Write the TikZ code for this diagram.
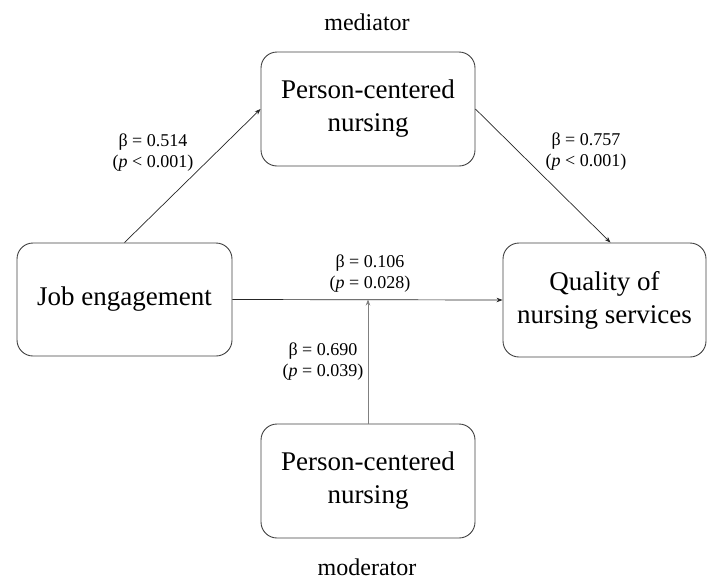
\documentclass[tikz,border=0pt]{standalone}
\usepackage{fontspec}
\setmainfont{Liberation Serif}
\usetikzlibrary{arrows.meta}
\begin{document}
\begin{tikzpicture}[x=1pt,y=-1pt,
  box/.style={draw=black!75, line width=0.9pt, rounded corners=16pt, align=center,
    inner sep=0pt, font=\fontsize{27}{33}\selectfont},
  lbl/.style={align=center, inner sep=0pt, font=\fontsize{18}{21}\selectfont},
  role/.style={inner sep=0pt, anchor=base, font=\fontsize{24}{28}\selectfont},
  arr/.style={line width=0.7pt, draw=black!85, -{Stealth[length=6pt,width=4.5pt]}},
  garr/.style={line width=1pt, draw=black!50, -{Stealth[length=6pt,width=4.5pt,fill=black]}}]
\useasboundingbox (0,0) rectangle (707,579);
\node[box, minimum width=214pt, minimum height=114pt] (med) at (368,109) {Person-centered\\nursing};
\node[box, minimum width=215pt, minimum height=113pt] (job) at (124.5,299.5) {Job engagement};
\node[box, minimum width=203pt, minimum height=114pt] (qual) at (604.5,300) {Quality of\\nursing services};
\node[box, minimum width=214pt, minimum height=114pt] (mod) at (368,481) {Person-centered\\nursing};
\node[role] (medl) at (367,30) {mediator};
\node[role] (modl) at (367,575) {moderator};
\coordinate (hit) at (mod.north |- job.east);
\draw[arr] (job.north) -- (med.west);
\draw[arr] (med.east) -- ([xshift=6pt]qual.north);
\draw[arr] (job.east) -- (qual.west);
\draw[garr] (mod.north) -- (hit);
\node[lbl] (l1) at (153,153) {β = 0.514\\(\textit{p} < 0.001)};
\node[lbl] (l2) at (586,152) {β = 0.757\\(\textit{p} < 0.001)};
\node[lbl] (l3) at (370,274) {β = 0.106\\(\textit{p} = 0.028)};
\node[lbl] (l4) at (323,362) {β = 0.690\\(\textit{p} = 0.039)};
\end{tikzpicture}
\end{document}
